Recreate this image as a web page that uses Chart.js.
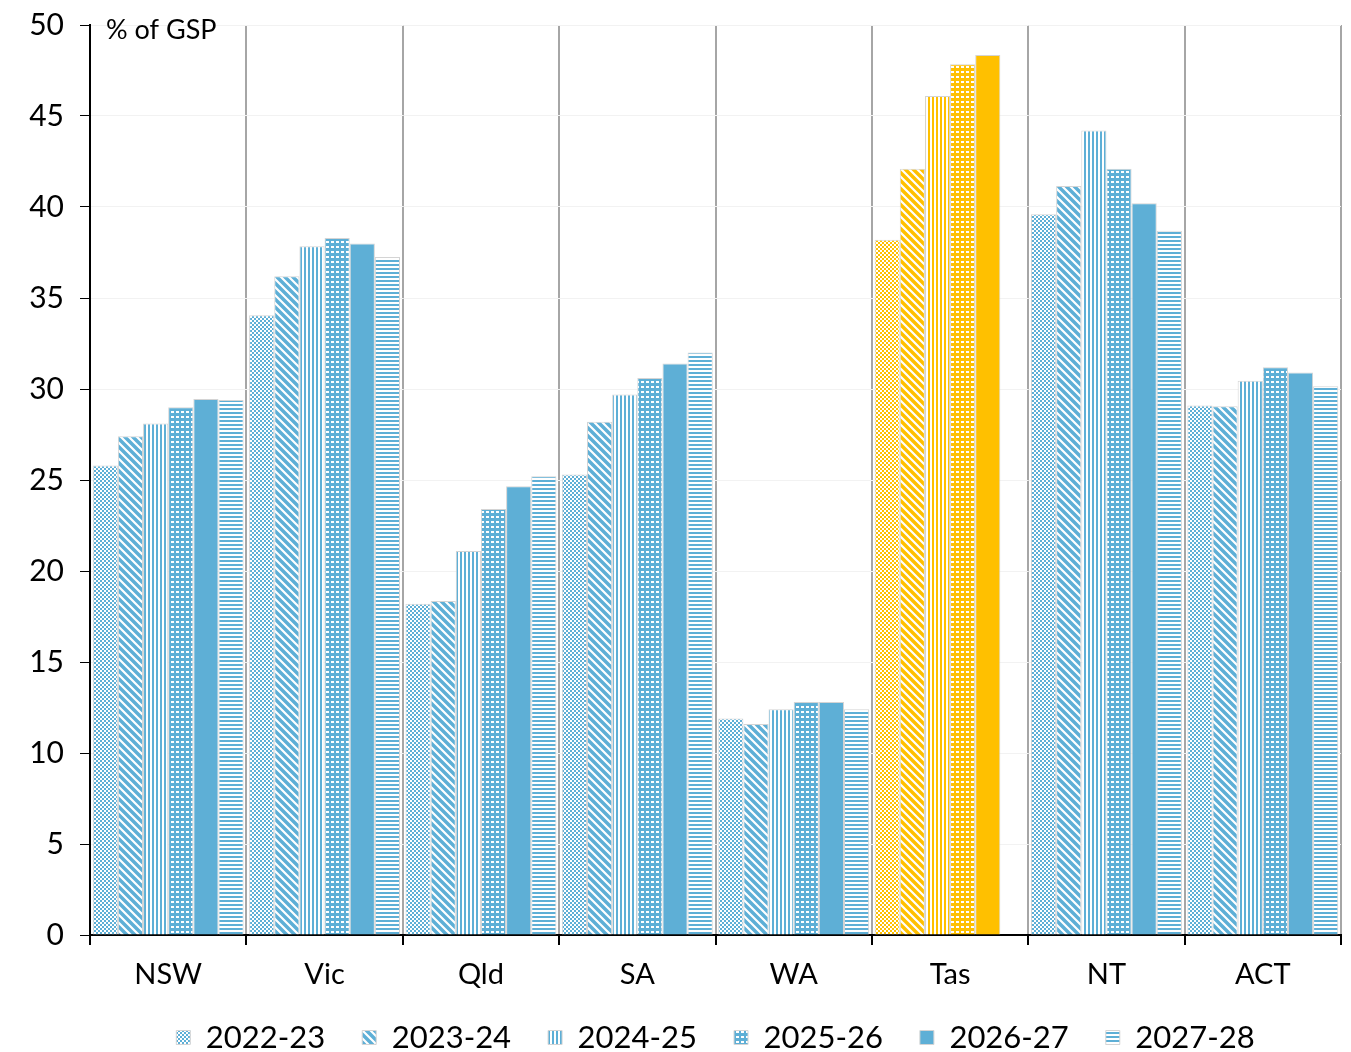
<!DOCTYPE html>
<html>
<head>
<meta charset="utf-8">
<script src="https://cdn.jsdelivr.net/npm/chart.js@4.4.0/dist/chart.umd.min.js"></script>
<style>
  html, body { margin: 0; padding: 0; background: #fff; }
  #wrap { position: relative; width: 1351px; height: 1052px; }
</style>
</head>
<body>
<div id="wrap"><canvas id="canvas" width="1351" height="1052"></canvas></div>
<script>
  const states = ['NSW', 'Vic', 'Qld', 'SA', 'WA', 'Tas', 'NT', 'ACT'];
  const years = ['2022-23', '2023-24', '2024-25', '2025-26', '2026-27', '2027-28'];
  const y2022 = [25.8, 34.05, 18.2, 25.3, 11.9, 38.2, 39.6, 29.1];
  const y2023 = [27.4, 36.2, 18.35, 28.2, 11.6, 42.1, 41.15, 29.05];
  const y2024 = [28.1, 37.85, 21.1, 29.7, 12.4, 46.1, 44.2, 30.45];
  const y2025 = [29.0, 38.3, 23.4, 30.6, 12.8, 47.85, 42.1, 31.2];
  const y2026 = [29.45, 38.0, 24.65, 31.4, 12.8, 48.35, 40.2, 30.9];
  const y2027 = [29.4, 37.25, 25.2, 32.0, 12.4, null, 38.7, 30.15];
  const yTicks = [0, 5, 10, 15, 20, 25, 30, 35, 40, 45, 50];

  const BLUE = '#5eafd6';
  const GOLD = '#ffc000';
  const FONT = 'Lato, "Noto Sans", sans-serif';

  // small tiles for the hatch fills
  function makePattern(kind, color) {
    const c = document.createElement('canvas');
    const x = c.getContext('2d');
    let s = 4;
    if (kind == 'checker') {
      s = 4; c.width = c.height = s;
      x.fillStyle = '#fff'; x.fillRect(0, 0, s, s);
      x.fillStyle = color; x.fillRect(0, 0, 2, 2); x.fillRect(2, 2, 2, 2);
    } else if (kind == 'diag') {
      s = 8; c.width = c.height = s;
      x.fillStyle = '#fff'; x.fillRect(0, 0, s, s);
      x.strokeStyle = color; x.lineWidth = 3.5;
      x.beginPath();
      x.moveTo(-2, -2); x.lineTo(s + 2, s + 2);
      x.moveTo(-2, s - 2); x.lineTo(2, s + 2);
      x.moveTo(s - 2, -2); x.lineTo(s + 2, 2);
      x.stroke();
    } else if (kind == 'vert') {
      s = 4; c.width = c.height = s;
      x.fillStyle = '#fff'; x.fillRect(0, 0, s, s);
      x.fillStyle = color; x.fillRect(0, 0, 2, s);
    } else if (kind == 'dots') {
      s = 5; c.width = c.height = s;
      x.fillStyle = color; x.fillRect(0, 0, s, s);
      x.fillStyle = '#fff'; x.fillRect(1, 1, 3, 2);
    } else if (kind == 'horiz') {
      s = 4; c.width = c.height = s;
      x.fillStyle = '#fff'; x.fillRect(0, 0, s, s);
      x.fillStyle = color; x.fillRect(0, 0, s, 2);
    } else {
      c.width = c.height = s;
      x.fillStyle = color; x.fillRect(0, 0, s, s);
    }
    return x.createPattern(c, 'repeat');
  }

  const kinds = ['checker', 'diag', 'vert', 'dots', 'solid', 'horiz'];
  const series = [y2022, y2023, y2024, y2025, y2026, y2027];

  const datasets = years.map(function (yr, i) {
    const bluePat = makePattern(kinds[i], BLUE);
    const goldPat = makePattern(kinds[i], GOLD);
    return {
      label: yr,
      data: series[i],
      backgroundColor: function (ctx) {
        return ctx.dataIndex === 5 ? goldPat : bluePat;
      },
      borderColor: '#d4d4d4',
      borderWidth: 1,
      barPercentage: 1.0,
      categoryPercentage: 0.965,
    };
  });

  const canvas = document.getElementById('canvas');
  const chart = new Chart(canvas, {
    type: 'bar',
    data: { labels: states, datasets: datasets },
    plugins: [{
      id: 'unitLabel',
      afterDraw: function (chart) {
        const c = chart.ctx;
        c.save();
        c.font = '27px ' + FONT;
        c.fillStyle = '#000';
        c.textBaseline = 'middle';
        c.fillText('% of GSP', chart.chartArea.left + 16, chart.chartArea.top + 5);
        c.restore();
      }
    }],
    options: {
      responsive: false,
      animation: false,
      layout: { padding: { top: 25, right: 10, left: 0, bottom: -11 } },
      plugins: {
        title: { display: false },
        tooltip: { enabled: false },
        legend: {
          position: 'bottom',
          fullSize: false,
          labels: {
            font: { family: FONT, size: 31 },
            color: '#000',
            boxWidth: 14,
            boxHeight: 14,
            padding: 37,
          },
        },
      },
      scales: {
        x: {
          grid: {
            offset: true,
            color: '#a6a6a6',
            lineWidth: 2,
            tickColor: '#000',
            tickLength: 10,
          },
          border: { color: '#000', width: 2 },
          ticks: { font: { family: FONT, size: 29 }, color: '#000', padding: 12 },
          afterFit: function (axis) {
            axis.height = 50;
            // don't clip the state names to the (short) axis box
            axis._computeLabelArea = function () { return undefined; };
          },
        },
        y: {
          min: 0,
          max: 50,
          afterBuildTicks: function (axis) {
            axis.ticks = yTicks.map(function (v) { return { value: v }; });
          },
          grid: {
            color: '#f2f2f2',
            tickColor: '#000',
            tickLength: 10,
            lineWidth: 1,
          },
          border: { color: '#000', width: 2 },
          ticks: { font: { family: FONT, size: 30 }, color: '#000', padding: 16 },
          afterFit: function (axis) { axis.width = 90; axis.paddingTop = 0; axis.paddingBottom = 0; },
        },
      },
    },
  });
</script>
</body>
</html>
